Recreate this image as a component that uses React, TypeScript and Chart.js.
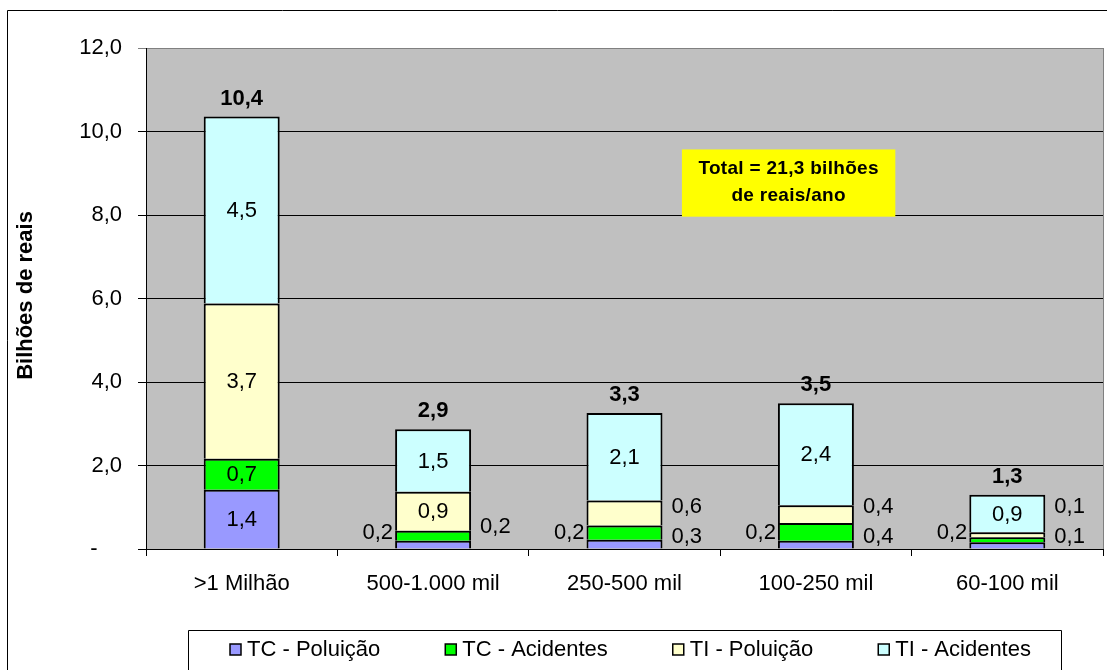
import React, { useEffect, useRef } from 'react';
import { Chart, registerables } from 'chart.js';

Chart.register(...registerables);

const categories = ['>1 Milhão', '500-1.000 mil', '250-500 mil', '100-250 mil', '60-100 mil'];
const tcPoluicao = [1.42, 0.2, 0.22, 0.2, 0.16];
const tcAcidentes = [0.74, 0.24, 0.34, 0.42, 0.12];
const tiPoluicao = [3.72, 0.93, 0.6, 0.43, 0.12];
const tiAcidentes = [4.48, 1.5, 2.1, 2.44, 0.9];
const seriesLabels = ['TC - Poluição', 'TC - Acidentes', 'TI - Poluição', 'TI - Acidentes'];
const seriesColors = ['#9999FF', '#00FF00', '#FFFFCC', '#CCFFFF'];
const yMin = 0;
const yMax = 12;
const yStep = 2;
const axisTitle = 'Bilhões de reais';
const noteLine1 = 'Total = {total} bilhões';
const noteLine2 = 'de reais/ano';

const FONT = "'Liberation Sans', Arial, Helvetica, sans-serif";

const fmt = (v: number) => (Math.round(v * 10) / 10).toFixed(1).replace('.', ',');

const seriesValues = [tcPoluicao, tcAcidentes, tiPoluicao, tiAcidentes];
const barTotals = categories.map((_, i) => seriesValues.reduce((s, arr) => s + arr[i], 0));
const grandTotal = barTotals.reduce((a, b) => a + b, 0);

const decorPlugin = {
  id: 'decor',
  beforeDraw(chart: any) {
    const { ctx, chartArea: ca } = chart;
    ctx.save();
    ctx.fillStyle = '#FFFFFF';
    ctx.fillRect(0, 0, chart.width, chart.height);
    ctx.fillStyle = '#C0C0C0';
    ctx.fillRect(ca.left, ca.top, ca.right - ca.left, ca.bottom - ca.top);
    ctx.restore();
  },
  afterDraw(chart: any) {
    const { ctx, chartArea: ca } = chart;
    const yScale = chart.scales.y;
    const zeroY = yScale.getPixelForValue(0);
    ctx.save();

    // right border of plot area
    ctx.strokeStyle = '#808080';
    ctx.lineWidth = 1;
    ctx.beginPath();
    ctx.moveTo(Math.round(ca.right) + 0.5, ca.top);
    ctx.lineTo(Math.round(ca.right) + 0.5, ca.bottom);
    ctx.stroke();

    // data labels
    ctx.fillStyle = '#000';
    ctx.textBaseline = 'middle';
    const metas = chart.data.datasets.map((_: any, i: number) => chart.getDatasetMeta(i));
    categories.forEach((_, ci) => {
      const yellowOutside = tiPoluicao[ci] < 0.7;
      seriesValues.forEach((arr, si) => {
        const el = metas[si].data[ci];
        const v = arr[ci];
        const txt = fmt(v);
        ctx.font = `22px ${FONT}`;
        if (si === 3 || v >= 0.7) {
          ctx.textAlign = 'center';
          ctx.fillText(txt, el.x, (el.y + el.base) / 2 + 1);
        } else if (si === 0) {
          ctx.textAlign = 'right';
          ctx.fillText(txt, el.x - el.width / 2 - 2, zeroY - 16);
        } else if (si === 1) {
          ctx.textAlign = 'left';
          ctx.fillText(txt, el.x + el.width / 2 + 9, zeroY - (yellowOutside ? 12 : 22));
        } else {
          ctx.textAlign = 'left';
          ctx.fillText(txt, el.x + el.width / 2 + 9, zeroY - 42);
        }
      });
      // totals
      const top = metas[3].data[ci];
      ctx.font = `bold 22px ${FONT}`;
      ctx.textAlign = 'center';
      ctx.fillText(fmt(barTotals[ci]), top.x, top.y - 18);
    });

    // yellow note
    const w = ca.right - ca.left;
    const bx1 = ca.left + 0.56 * w;
    const bx2 = ca.left + 0.783 * w;
    const by1 = yScale.getPixelForValue(9.57);
    const by2 = yScale.getPixelForValue(7.96);
    ctx.fillStyle = '#FFFF00';
    ctx.fillRect(bx1, by1, bx2 - bx1, by2 - by1);
    ctx.fillStyle = '#000';
    ctx.font = `bold 19px ${FONT}`;
    try { (ctx as any).letterSpacing = '0.3px'; } catch (e) {}
    ctx.textAlign = 'center';
    const cx = (bx1 + bx2) / 2;
    const cy = (by1 + by2) / 2;
    ctx.fillText(noteLine1.replace('{total}', fmt(grandTotal)), cx, cy - 14);
    ctx.fillText(noteLine2, cx, cy + 13);
    try { (ctx as any).letterSpacing = '0px'; } catch (e) {}

    // y axis title
    ctx.save();
    ctx.translate(26, (ca.top + ca.bottom) / 2 - 3);
    ctx.rotate(-Math.PI / 2);
    ctx.font = `bold 22px ${FONT}`;
    ctx.textAlign = 'center';
    ctx.textBaseline = 'middle';
    ctx.fillText(axisTitle, 0, 0);
    ctx.restore();

    // outer frame
    ctx.strokeStyle = '#000';
    ctx.lineWidth = 1;
    ctx.beginPath();
    ctx.moveTo(7.5, chart.height + 5);
    ctx.lineTo(7.5, 10.5);
    ctx.lineTo(chart.width + 5, 10.5);
    ctx.stroke();

    // legend box
    const lx1 = 188;
    const ly1 = 630;
    const lx2 = 1061;
    ctx.strokeStyle = '#000';
    ctx.beginPath();
    ctx.moveTo(lx1 + 0.5, chart.height + 5);
    ctx.lineTo(lx1 + 0.5, ly1 + 0.5);
    ctx.lineTo(lx2 + 0.5, ly1 + 0.5);
    ctx.lineTo(lx2 + 0.5, chart.height + 5);
    ctx.stroke();

    ctx.font = `22px ${FONT}`;
    ctx.textAlign = 'left';
    ctx.textBaseline = 'middle';
    let x = lx1 + 42;
    const ly = 649;
    chart.data.datasets.forEach((ds: any) => {
      ctx.fillStyle = ds.backgroundColor;
      ctx.fillRect(x, ly - 5, 11, 11);
      ctx.strokeStyle = '#000';
      ctx.lineWidth = 1.5;
      ctx.strokeRect(x, ly - 5, 11, 11);
      ctx.fillStyle = '#000';
      ctx.fillText(ds.label, x + 17, ly + 1);
      x += 17 + ctx.measureText(ds.label).width + 65;
    });

    ctx.restore();
  },
};

export default function App() {
  const ref = useRef<HTMLCanvasElement>(null);
  useEffect(() => {
    if (!ref.current) return;
    const chart = new Chart(ref.current, {
      type: 'bar',
      data: {
        labels: categories,
        datasets: seriesValues.map((d, i) => ({
          label: seriesLabels[i],
          data: d,
          backgroundColor: seriesColors[i],
          borderColor: '#000',
          borderWidth: 2,
          borderSkipped: 'bottom',
          categoryPercentage: 1,
          barPercentage: 0.397,
          stack: 's',
        })),
      },
      options: {
        animation: false,
        responsive: false,
        devicePixelRatio: 1,
        layout: { padding: { left: 0, top: 48, right: 4, bottom: 0 } },
        plugins: { legend: { display: false }, tooltip: { enabled: false }, title: { display: false } },
        scales: {
          x: {
            stacked: true,
            grid: { display: true, drawOnChartArea: false, drawTicks: true, tickLength: 7, color: '#000', offset: true },
            border: { display: true, color: '#000', width: 1 },
            ticks: { font: { size: 22, family: FONT }, color: '#000', padding: 15, maxRotation: 0 },
            afterFit: (s: any) => { s.height = 121; },
          },
          y: {
            stacked: true,
            min: yMin,
            max: yMax,
            ticks: {
              stepSize: yStep,
              font: { size: 22, family: FONT },
              color: '#000',
              padding: 16,
              callback: (v: any) => (Number(v) === 0 ? '-    ' : fmt(Number(v))),
            },
            grid: {
              color: (ctx: any) => (ctx.tick && ctx.tick.value === yMax ? '#808080' : '#000'),
              tickLength: 8,
              drawTicks: true,
            },
            border: { display: true, color: '#000', width: 1 },
            afterFit: (s: any) => { s.width = 146; },
          },
        },
      },
      plugins: [decorPlugin],
    });
    return () => chart.destroy();
  }, []);
  return (
    <div style={{ position: 'absolute', left: 0, top: 0, width: 1107, height: 670 }}>
      <canvas ref={ref} width={1107} height={670} style={{ display: 'block' }} />
    </div>
  );
}
